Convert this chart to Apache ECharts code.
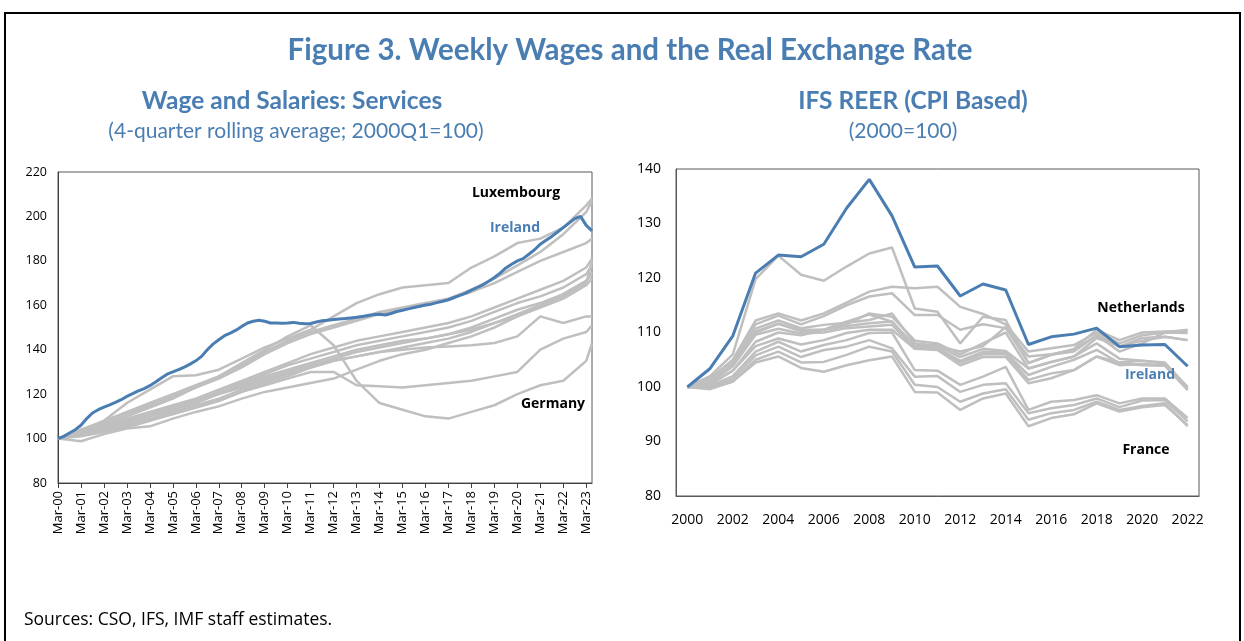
<!DOCTYPE html>
<html>
<head>
<meta charset="utf-8">
<script src="https://cdn.jsdelivr.net/npm/echarts@6/dist/echarts.min.js"></script>
<style>
  html, body { margin: 0; padding: 0; background: #fff; }
  #chart { width: 1244px; height: 641px; }
</style>
</head>
<body>
<div id="chart"></div>
<script>
// quarterly categories for the wages panel, Mar-00 .. Jun-23
const quarterMonths = ['Mar', 'Jun', 'Sep', 'Dec'];
const quarters = [];
for (let y = 0; y <= 23; y++) {
  for (const m of quarterMonths) {
    quarters.push(m + '-' + String(y).padStart(2, '0'));
  }
}
quarters.length = 94;

// Ireland, quarterly (2000Q1=100)
const irelandWages = [
  100, 101, 102.5, 104, 106, 109, 111.5, 113, 114.2, 115.2, 116.3, 117.5,
  119, 120.2, 121.5, 122.5, 123.8, 125.5, 127.3, 129, 130, 131, 132.2, 133.5,
  135, 137, 140, 142.5, 144.5, 146.3, 147.5, 148.8, 150.5, 152, 152.8, 153.3,
  152.8, 152, 152, 151.9, 152, 152.3, 151.9, 151.7, 151.8, 152.5, 153, 153.3,
  153.6, 153.8, 154, 154.3, 154.6, 155, 155.4, 155.8, 156, 155.6, 156.3, 157.2,
  157.8, 158.4, 159, 159.6, 160.1, 160.5, 161.2, 161.8, 162.5, 163.5, 164.5, 165.5,
  166.8, 168, 169.2, 170.8, 172.5, 174.5, 176.8, 178.5, 180, 181, 183, 185,
  187.5, 189.3, 191, 193, 195, 197, 199, 200, 196, 193.5
];

// other euro area countries, read at each March and the last quarter (Jun-23)
const wagesLux = [100, 103, 108, 116, 122, 128, 128.5, 131, 136, 141, 145, 149, 155, 161, 165, 168, 169, 170, 177, 182, 188, 190, 195, 205, 208];
const wagesB = [100, 104, 107, 111, 115, 119, 123, 127, 132, 138, 143, 147, 150, 153, 156, 158, 160, 163, 167, 172, 178, 184, 192, 202, 207];
const wagesC = [100, 104, 108, 112, 116, 120, 124, 128, 133, 139, 144, 148, 151, 154, 157, 159, 161, 163, 166, 170, 175, 180, 184, 188, 190];
const wagesD = [100, 103, 106, 109, 112, 115, 118, 122, 126, 130, 134, 138, 141, 144, 146, 148, 150, 152, 155, 159, 163, 167, 171, 177, 181];
const wagesE = [100, 102.5, 105, 108, 111, 114, 117, 121, 125, 129, 133, 136, 139, 142, 144, 146, 148, 150, 153, 157, 161, 164, 168, 174, 178];
const wagesF = [100, 102, 104.5, 107, 110, 113, 116, 120, 124, 128, 131, 134, 137, 140, 142, 144, 145, 147, 150, 154, 158, 161, 165, 171, 175];
const wagesG = [100, 102, 104, 106, 109, 112, 115, 118, 122, 126, 129, 132, 135, 137, 139, 141, 143, 145, 148, 152, 155, 159, 163, 169, 172];
const wagesH = [100, 101.5, 103.5, 106, 108.5, 111, 114, 117, 121, 125, 128, 132, 135, 137, 139, 140, 141, 141.5, 142, 143, 146, 155, 152, 155, 155];
const wagesI = [100, 101, 103, 105, 108, 111, 114, 117, 121, 124, 127, 130, 130, 124, 123.5, 123, 124, 125, 126, 128, 130, 140, 145, 148, 151];
const wagesGer = [100, 102, 106, 110, 114, 118, 123, 128, 134, 140, 146, 151, 142, 126, 116, 113, 110, 109, 112, 115, 120, 124, 126, 135, 143];
const wagesK = [100, 98.8, 102, 104.5, 105.5, 109, 112, 114.5, 118, 121, 123, 125, 127, 131, 135, 138, 140, 143, 146, 150, 155, 160, 165, 171, 174];
const wagesL = [100, 102, 105, 108, 111, 114, 117, 120, 123, 127, 130, 133, 136, 139, 141, 143, 145, 147, 149, 152, 156, 160, 164, 170, 180];
const wagesOthers = [wagesLux, wagesB, wagesC, wagesD, wagesE, wagesF, wagesG, wagesH, wagesI, wagesGer, wagesK, wagesL];

// REER panel, annual
const years = [];
for (let y = 2000; y <= 2022; y++) years.push(String(y));

const irelandReer = [100, 103.4, 109.4, 120.9, 124.2, 123.9, 126.2, 132.8, 138.1, 131.4, 122.0, 122.2, 116.7, 118.9, 117.8, 107.8, 109.2, 109.7, 110.8, 107.4, 107.7, 107.8, 103.8];
const reerA = [100, 102, 106, 119.8, 124.1, 120.6, 119.5, 122.1, 124.5, 125.6, 114.4, 113.8, 108.0, 112.9, 112.3, 104.4, 105.9, 107.0, 110.5, 108.6, 110.0, 110.2, 110.3];
const reerNld = [100, 101.5, 105, 112.2, 113.5, 112.2, 113.5, 115.5, 117.5, 118.4, 118.1, 118.4, 114.7, 113.4, 111.5, 106.5, 107.1, 107.7, 110.0, 108.0, 109.5, 110.0, 109.9];
const reerC = [100, 101.5, 104.8, 111.5, 113.1, 111.5, 113.0, 115.0, 116.6, 117.2, 113.2, 113.2, 110.5, 111.5, 110.8, 105.6, 106.0, 106.8, 109.5, 107.4, 109.0, 109.2, 108.6];
const reerD = [100, 101, 104.3, 110.7, 112.2, 110.8, 111.4, 111.8, 112.3, 113.5, 108.0, 107.6, 105.5, 107.0, 106.6, 103.4, 104.6, 105.6, 108.0, 105.2, 104.8, 104.5, 100.0];
const reerE = [100, 101, 104.0, 110.0, 111.6, 110.2, 110.5, 111.2, 111.7, 112.0, 107.4, 107.2, 104.8, 106.5, 106.3, 102.2, 103.7, 105.0, 106.8, 104.4, 104.0, 103.9, 99.4];
const reerF = [100, 100.8, 103.8, 109.6, 110.7, 109.8, 110.0, 110.8, 111.1, 111.4, 107.1, 107.0, 104.5, 106.0, 106.0, 101.3, 102.5, 103.1, 105.6, 104.0, 104.2, 104.0, 100.0];
const reerG = [100, 100.5, 103.0, 107.5, 108.9, 107.8, 108.6, 109.9, 110.5, 110.5, 107.0, 106.8, 104.0, 105.5, 105.5, 100.7, 101.6, 103.1, 105.6, 104.5, 104.8, 104.3, 99.6];
const reerH = [100, 100.2, 102.0, 106.5, 108.3, 106.5, 107.7, 108.6, 109.9, 110.0, 103.1, 103.0, 100.4, 101.9, 103.7, 95.8, 97.3, 97.6, 98.5, 97.0, 97.9, 97.9, 94.3];
const reerI = [100, 100.0, 101.5, 105.8, 107.4, 105.5, 106.8, 107.4, 108.6, 107.1, 101.9, 102.0, 99.1, 100.4, 100.7, 95.2, 96.1, 96.7, 97.9, 96.3, 97.5, 97.6, 93.7];
const reerFra = [100, 99.8, 101.0, 105.0, 106.5, 104.5, 104.6, 105.9, 107.4, 106.5, 100.4, 100.0, 97.3, 98.8, 99.6, 94.0, 95.2, 95.8, 97.3, 95.8, 96.5, 97.0, 92.8];
const reerK = [100, 99.6, 101.0, 104.5, 105.6, 103.5, 102.8, 104.0, 104.9, 105.6, 99.1, 99.0, 95.8, 97.9, 98.8, 92.8, 94.3, 95.0, 97.0, 95.5, 96.3, 96.7, 93.0];
const reerL = [100, 101, 104, 110.2, 111.6, 110.5, 110.5, 111.5, 113.5, 112.9, 108.5, 108, 106, 108, 110, 103.4, 104.6, 105.6, 109, 107.5, 108.5, 109.2, 108.6];
const reerM = [100, 100.5, 103, 108.3, 110, 109.5, 110.5, 112, 113.3, 112, 107.5, 107.5, 106.5, 107.5, 111, 104.4, 105.9, 106.5, 109.5, 106.5, 108, 110, 110.5];
const reerOthers = [reerA, reerNld, reerC, reerD, reerE, reerF, reerG, reerH, reerI, reerFra, reerK, reerL, reerM];

const blue = '#4a7eb2';
const grey = '#bfbfbf';
const font = '"Open Sans", "Noto Sans", sans-serif';
const titleFont = 'Lato, "Open Sans", sans-serif';

// yearly readings sit on the March of each year, last one on Jun-23
const toQuarterly = (arr) => quarters.map((_, i) => {
  if (i === quarters.length - 1) return arr[arr.length - 1];
  return i % 4 === 0 ? arr[i / 4] : null;
});

const greyLine = (data, x, y) => ({
  type: 'line', xAxisIndex: x, yAxisIndex: y, data,
  showSymbol: false, connectNulls: true, silent: true,
  lineStyle: { color: grey, width: 2.5 }, z: 2
});

const series = [];
wagesOthers.forEach((arr) => series.push(greyLine(toQuarterly(arr), 0, 0)));
series.push({
  type: 'line', xAxisIndex: 0, yAxisIndex: 0, data: irelandWages,
  showSymbol: false, silent: true, lineStyle: { color: blue, width: 3 }, z: 5
});
reerOthers.forEach((arr) => series.push(greyLine(arr, 1, 1)));
series.push({
  type: 'line', xAxisIndex: 1, yAxisIndex: 1, data: irelandReer,
  showSymbol: false, silent: true, lineStyle: { color: blue, width: 3 }, z: 5
});

const label = (text, x, y, color) => ({
  type: 'text', x, y, z: 10,
  style: { text, fill: color, font: 'bold 14px ' + font, textAlign: 'center', textVerticalAlign: 'middle' }
});

const heading = (text, x, y, size, weight) => ({
  type: 'text', x, y,
  style: { text, fill: blue, font: weight + ' ' + size + 'px ' + titleFont, textAlign: 'center', textVerticalAlign: 'middle' }
});

const chart = echarts.init(document.getElementById('chart'), null, { renderer: 'canvas' });
chart.setOption({
  animation: false,
  backgroundColor: '#fff',
  textStyle: { fontFamily: font },
  grid: [
    { left: 58, top: 172, width: 534, height: 311, show: true, borderColor: '#595959', borderWidth: 1, backgroundColor: '#fff' },
    { left: 676, top: 169, width: 523, height: 327, show: true, borderColor: '#595959', borderWidth: 1, backgroundColor: '#fff' }
  ],
  xAxis: [
    {
      type: 'category', gridIndex: 0, data: quarters, boundaryGap: false,
      axisLine: { lineStyle: { color: '#404040' } },
      axisTick: { show: true, interval: 3, length: 5, lineStyle: { color: '#404040' } },
      axisLabel: { interval: 3, rotate: 90, color: '#000', fontSize: 13, margin: 8 }
    },
    {
      type: 'category', gridIndex: 1, data: years, boundaryGap: true,
      axisLine: { lineStyle: { color: '#595959' } },
      axisTick: { show: false },
      axisLabel: { interval: 1, color: '#000', fontSize: 14, margin: 17 }
    }
  ],
  yAxis: [
    {
      type: 'value', gridIndex: 0, min: 80, max: 220, interval: 20,
      splitLine: { show: false }, axisTick: { show: false },
      axisLine: { show: true, lineStyle: { color: '#404040' } },
      axisLabel: { color: '#000', fontSize: 12.5, margin: 11 }
    },
    {
      type: 'value', gridIndex: 1, min: 80, max: 140, interval: 10,
      splitLine: { show: false }, axisTick: { show: false },
      axisLine: { show: true, lineStyle: { color: '#595959' } },
      axisLabel: { color: '#000', fontSize: 14, margin: 15 }
    }
  ],
  series,
  graphic: [
    { type: 'rect', shape: { x: 5, y: 13, width: 1235, height: 640 }, style: { fill: 'none', stroke: '#000', lineWidth: 2 }, z: -1 },
    heading('Figure 3. Weekly Wages and the Real Exchange Rate', 630, 50, 29.5, 'bold'),
    heading('Wage and Salaries: Services', 292, 101, 24.5, 'bold'),
    heading('(4-quarter rolling average; 2000Q1=100)', 296, 131, 21, 'normal'),
    heading('IFS REER (CPI Based)', 913, 101, 24.5, 'bold'),
    heading('(2000=100)', 903, 131, 21, 'normal'),
    label('Luxembourg', 516, 193, '#000'),
    label('Ireland', 515, 228, blue),
    label('Germany', 553, 404, '#000'),
    label('Netherlands', 1141, 308, '#000'),
    label('Ireland', 1150, 375, blue),
    label('France', 1146, 450, '#000'),
    { type: 'text', x: 24, y: 620, style: { text: 'Sources: CSO, IFS, IMF staff estimates.', fill: '#000', font: '17.5px ' + font, textVerticalAlign: 'middle' } }
  ]
});
</script>
</body>
</html>
